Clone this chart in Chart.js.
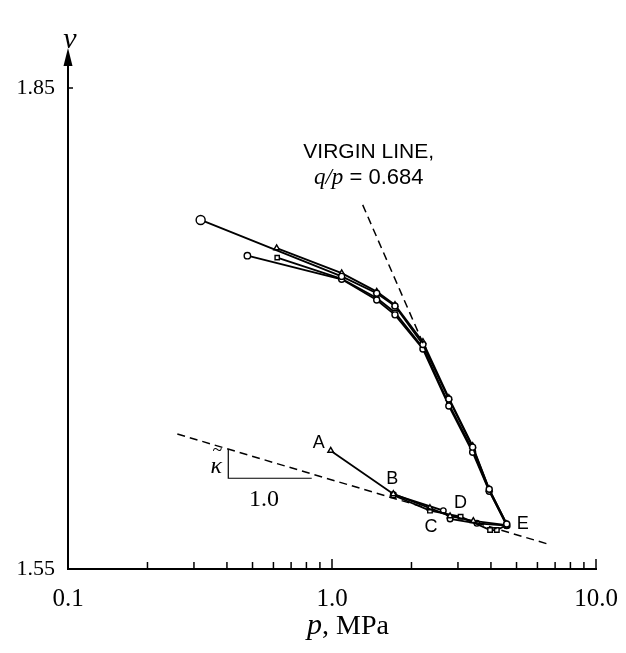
<!DOCTYPE html>
<html>
<head>
<meta charset="utf-8">
<script src="https://cdn.jsdelivr.net/npm/chart.js@4"></script>
<style>
  body { margin: 0; background: #fff; }
  canvas { display: block; }
</style>
</head>
<body>
<canvas id="chart" width="626" height="653"></canvas>
<script>
// Loading paths (p in MPa, specific volume v)
const pA = [0.318, 1.088, 1.477, 1.732, 2.21, 2.77, 3.41, 3.94, 4.59];
const vA = [1.7677, 1.7325, 1.7220, 1.7140, 1.6900, 1.6560, 1.6260, 1.5997, 1.5781];
const pB = [0.478, 1.088, 1.477, 1.732, 2.21, 2.77, 3.41, 3.94, 4.59];
const vB = [1.7454, 1.7307, 1.7178, 1.7085, 1.6872, 1.6517, 1.6228, 1.5985, 1.5775];
const pC = [0.617, 1.088, 1.477, 1.732, 2.21, 2.77, 3.41, 3.94, 4.59];
const vC = [1.7501, 1.7345, 1.7230, 1.7147, 1.6916, 1.6567, 1.6267, 1.5997, 1.5780];
const pD = [0.620, 1.088, 1.477, 1.732, 2.21, 2.77, 3.41, 3.94, 4.59];
const vD = [1.7442, 1.7310, 1.7190, 1.7100, 1.6880, 1.6530, 1.6240, 1.5990, 1.5770];

// Lower paths A-B-C-D-E
const pL1 = [0.989, 1.707, 2.35, 2.80, 3.43, 4.59];
const vL1 = [1.6238, 1.5968, 1.5880, 1.5830, 1.5800, 1.5774];
const pL2 = [1.707, 2.35, 3.07, 3.97, 4.21, 4.59];
const vL2 = [1.5960, 1.5864, 1.5826, 1.5743, 1.5743, 1.5774];
const pL3 = [1.707, 2.64, 2.80, 3.54, 4.59];
const vL3 = [1.5965, 1.5864, 1.5812, 1.5785, 1.5770];

// Reference lines
const virginP = [1.307, 2.25];
const virginV = [1.7771, 1.6880];
const kappaP = [0.2595, 6.75];
const kappaV = [1.6342, 1.5650];
const slopeP = [0.4047, 0.4047, 0.838];
const slopeV = [1.6248, 1.6066, 1.6066];

// Axis ticks
const xMajor = [0.1, 1, 10];
const xMinor = [0.2, 0.3, 0.4, 0.5, 0.6, 0.7, 0.8, 0.9, 2, 3, 4, 5, 6, 7, 8, 9];
const xLabels = ['0.1', '1.0', '10.0'];
const yTicks = [1.55, 1.85];
const yLabels = ['1.55', '1.85'];

// Point labels
const pointNames = ['A', 'B', 'C', 'D', 'E'];
const nameP = [0.989, 1.707, 2.35, 3.07, 4.59];
const nameV = [1.6238, 1.5968, 1.5864, 1.5826, 1.5774];
const nameOffset = [[-12, -8], [-1, -15], [1, 16], [0, -14], [16, -1]];

const zip = (xs, ys) => xs.map((x, i) => ({ x: x, y: ys[i] }));

function series(xs, ys, style, radius, firstRadius) {
    return {
        data: zip(xs, ys),
        showLine: true,
        borderColor: '#000',
        borderWidth: 1.8,
        pointStyle: style,
        pointRadius: xs.map((x, i) => i === 0 && firstRadius ? firstRadius : radius),
        pointBackgroundColor: '#fff',
        pointBorderColor: '#000',
        pointBorderWidth: 1.4
    };
}

function refLine(xs, ys, dashed) {
    return {
        data: zip(xs, ys),
        showLine: true,
        borderColor: '#000',
        borderWidth: dashed ? 1.5 : 1.2,
        borderDash: dashed ? [8, 5] : [],
        pointRadius: 0
    };
}

// Inward ticks, arrow and free text
const decorations = {
    id: 'decorations',
    afterDraw(chart) {
        const ctx = chart.ctx;
        const xs = chart.scales.x;
        const ys = chart.scales.y;
        const area = chart.chartArea;
        ctx.save();
        ctx.strokeStyle = '#000';
        ctx.fillStyle = '#000';
        ctx.lineWidth = 1.5;

        // x ticks pointing up
        xMajor.concat(xMinor).forEach(v => {
            const px = xs.getPixelForValue(v);
            const len = xMajor.includes(v) ? 10 : 7;
            ctx.beginPath();
            ctx.moveTo(px, area.bottom);
            ctx.lineTo(px, area.bottom - len);
            ctx.stroke();
        });
        // y tick
        const py = ys.getPixelForValue(1.85);
        ctx.beginPath();
        ctx.moveTo(area.left, py);
        ctx.lineTo(area.left + 5, py);
        ctx.stroke();

        // axis arrow
        ctx.lineWidth = 2;
        ctx.beginPath();
        ctx.moveTo(area.left, area.top);
        ctx.lineTo(area.left, area.top - 30);
        ctx.stroke();
        ctx.beginPath();
        ctx.moveTo(area.left, area.top - 40);
        ctx.lineTo(area.left - 4.5, area.top - 22);
        ctx.lineTo(area.left + 4.5, area.top - 22);
        ctx.closePath();
        ctx.fill();

        // axis titles
        ctx.textBaseline = 'middle';
        ctx.textAlign = 'center';
        ctx.font = 'italic 30px "Liberation Serif"';
        ctx.fillText('\u03BD', area.left + 2, 40);

        const t1 = 'p';
        ctx.font = '28px "Liberation Serif"';
        const t2 = ', MPa';
        const w2 = ctx.measureText(t2).width;
        ctx.font = 'italic 30px "Liberation Serif"';
        const w1 = ctx.measureText(t1).width;
        const cx = (xs.getPixelForValue(1) + 16);
        let sx = cx - (w1 + w2) / 2;
        ctx.textAlign = 'left';
        ctx.fillText(t1, sx, 626);
        ctx.font = '28px "Liberation Serif"';
        ctx.fillText(t2, sx + w1, 627);

        // point names
        ctx.font = '18px "Liberation Sans"';
        ctx.textAlign = 'center';
        pointNames.forEach((n, i) => {
            const x = xs.getPixelForValue(nameP[i]) + nameOffset[i][0];
            const y = ys.getPixelForValue(nameV[i]) + nameOffset[i][1];
            ctx.fillText(n, x, y);
        });

        // virgin line note
        const vx = xs.getPixelForValue(virginP[0]) + 6;
        ctx.font = '21px "Liberation Sans"';
        ctx.fillText('VIRGIN LINE,', vx, 152);
        ctx.font = 'italic 23px "Liberation Serif"';
        const q = 'q/p';
        const qw = ctx.measureText(q).width;
        ctx.font = '22px "Liberation Sans"';
        const rest = ' = 0.684';
        const rw = ctx.measureText(rest).width;
        let qx = vx - (qw + rw) / 2;
        ctx.textAlign = 'left';
        ctx.font = 'italic 23px "Liberation Serif"';
        ctx.fillText(q, qx, 178);
        ctx.font = '22px "Liberation Sans"';
        ctx.fillText(rest, qx + qw, 178);

        // kappa slope triangle labels
        const kx = xs.getPixelForValue(slopeP[0]);
        const ky = (ys.getPixelForValue(slopeV[0]) + ys.getPixelForValue(slopeV[1])) / 2;
        ctx.textAlign = 'center';
        ctx.font = 'italic 24px "Liberation Serif"';
        ctx.fillText('\u03BA', kx - 12, ky + 3);
        ctx.font = '18px "Liberation Serif"';
        ctx.fillText('~', kx - 11, ky - 12);
        ctx.font = '24px "Liberation Serif"';
        const mid = (xs.getPixelForValue(slopeP[1]) + xs.getPixelForValue(slopeP[2])) / 2;
        ctx.fillText('1.0', mid - 6, ys.getPixelForValue(slopeV[1]) + 21);
        ctx.restore();
    }
};

new Chart(document.getElementById('chart'), {
    type: 'scatter',
    data: {
        datasets: [
            refLine(virginP, virginV, true),
            refLine(kappaP, kappaV, true),
            refLine(slopeP, slopeV, false),
            series(pA, vA, 'circle', 3, 4.5),
            series(pB, vB, 'circle', 3, 3.2),
            series(pC, vC, 'triangle', 3.3),
            series(pD, vD, 'rect', 3),
            series(pL1, vL1, 'triangle', 3.3),
            series(pL2, vL2, 'rect', 3.2),
            series(pL3, vL3, 'circle', 2.8)
        ]
    },
    options: {
        responsive: false,
        animation: false,
        devicePixelRatio: 1,
        layout: { padding: { top: 88, right: 30, left: 0, bottom: 0 } },
        plugins: {
            legend: { display: false },
            tooltip: { enabled: false }
        },
        scales: {
            x: {
                type: 'logarithmic',
                min: 0.1,
                max: 10,
                afterBuildTicks: scale => {
                    scale.ticks = xMajor.map(v => ({ value: v }));
                },
                afterFit: scale => { scale.height = 84; },
                grid: { display: false },
                border: { display: true, color: '#000', width: 2 },
                ticks: {
                    autoSkip: false,
                    maxRotation: 0,
                    padding: 7,
                    color: '#000',
                    font: { family: 'Liberation Serif', size: 25 },
                    callback: (v) => xLabels[xMajor.indexOf(v)]
                }
            },
            y: {
                min: 1.55,
                max: 1.85,
                afterBuildTicks: scale => {
                    scale.ticks = yTicks.map(v => ({ value: v }));
                },
                afterFit: scale => { scale.width = 68; },
                grid: { display: false },
                border: { display: true, color: '#000', width: 2 },
                ticks: {
                    padding: 5,
                    color: '#000',
                    font: { family: 'Liberation Serif', size: 22 },
                    callback: (v) => yLabels[yTicks.indexOf(v)]
                }
            }
        }
    },
    plugins: [decorations]
});
</script>
</body>
</html>
